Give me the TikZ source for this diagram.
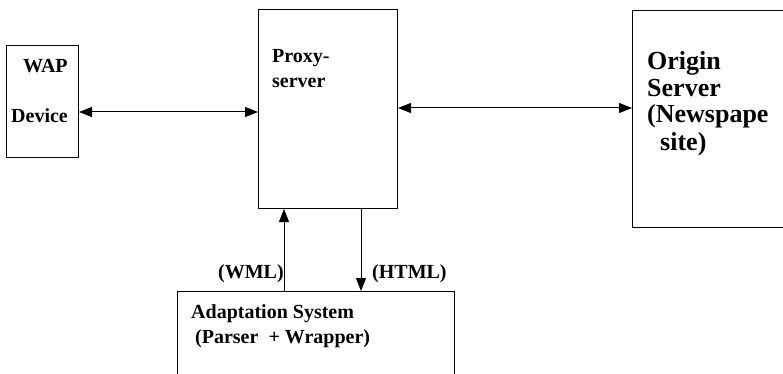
\documentclass[tikz,border=0pt]{standalone}
\usepackage{fontspec}
\setmainfont{Liberation Serif}
\usetikzlibrary{arrows.meta}
\begin{document}
\begin{tikzpicture}[x=1pt,y=-1pt,
  box/.style={draw=black,line width=1pt,rectangle,inner sep=0pt,anchor=north west},
  lbl/.style={anchor=base west,inner sep=0pt,font=\fontsize{20}{22}\selectfont\bfseries},
  biglbl/.style={anchor=base west,inner sep=0pt,font=\fontsize{26}{28}\selectfont\bfseries},
  conn/.style={line width=1pt,-{Triangle[length=13pt,width=10pt]}},
  dconn/.style={line width=1pt,{Triangle[length=13pt,width=10pt]}-{Triangle[length=13pt,width=10pt]}}]
\useasboundingbox (0,0) rectangle (783,374);
% boxes
\node[box,minimum width=72pt,minimum height=112pt] (wap) at (6,45) {};
\node[box,minimum width=139pt,minimum height=199pt] (proxy) at (258,9) {};
\node[box,minimum width=200pt,minimum height=217pt] (origin) at (632,10) {};
\node[box,minimum width=277pt,minimum height=120pt] (adapt) at (177,291) {};
% texts
\node[lbl] (t1) at (23,73) {WAP};
\node[lbl] (t2) at (11,123) {Device};
\node[lbl] (t3) at (272,63) {Proxy-};
\node[lbl] (t4) at (272,88) {server};
\node[biglbl] (t5) at (647,70) {Origin};
\node[biglbl] (t6) at (647,97) {Server};
\node[biglbl] (t7) at (647,123) {(Newspape};
\node[biglbl] (t8) at (660,150) {site)};
\node[lbl] (t9) at (191,318) {Adaptation System};
\node[lbl] (t10) at (195,343) {(Parser\ \ + Wrapper)};
\node[lbl] (t11) at (218,278) {(WML)};
\node[lbl] (t12) at (372,278) {(HTML)};
% connectors
\coordinate (a1) at (wap.east |- 0,112);
\coordinate (a2) at (proxy.west |- 0,112);
\draw[dconn] (a1) -- (a2);
\coordinate (b1) at (proxy.east |- 0,108);
\coordinate (b2) at (origin.west |- 0,108);
\draw[dconn] (b1) -- (b2);
\coordinate (c1) at (adapt.north -| 284,0);
\coordinate (c2) at (proxy.south -| 284,0);
\draw[conn] (c1) -- (c2);
\coordinate (d1) at (proxy.south -| 361,0);
\coordinate (d2) at (adapt.north -| 361,0);
\draw[conn] (d1) -- (d2);
\end{tikzpicture}
\end{document}
